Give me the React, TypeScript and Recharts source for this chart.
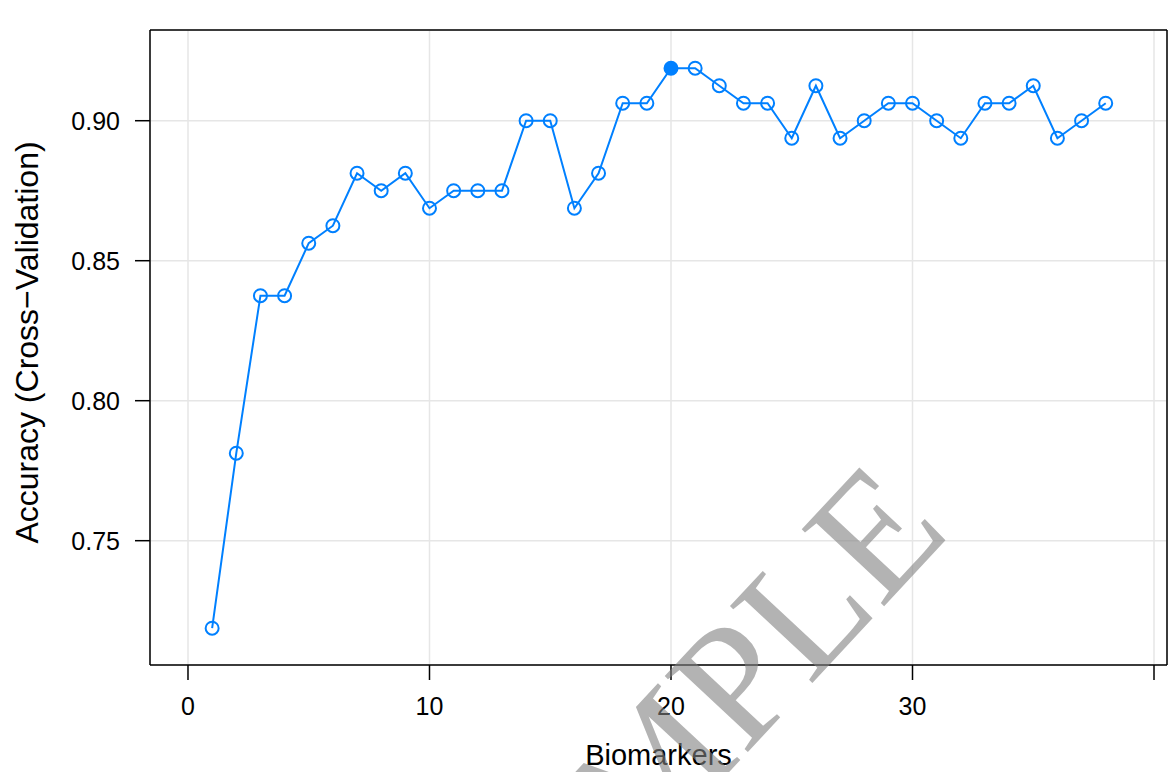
import React from 'react'
import {
  LineChart,
  Line,
  XAxis,
  YAxis,
  CartesianGrid,
  Label,
} from 'recharts'

// Number of biomarkers kept in each resampling step
const BIOMARKERS = [
  1, 2, 3, 4, 5, 6, 7, 8, 9, 10, 11, 12, 13, 14, 15, 16, 17, 18, 19,
  20, 21, 22, 23, 24, 25, 26, 27, 28, 29, 30, 31, 32, 33, 34, 35, 36, 37, 38,
]

// Cross-validated accuracy for each subset size
const ACCURACY = [
  0.71875, 0.78125, 0.8375, 0.8375, 0.85625, 0.8625, 0.88125, 0.875, 0.88125,
  0.86875, 0.875, 0.875, 0.875, 0.9, 0.9, 0.86875, 0.88125, 0.90625, 0.90625,
  0.91875, 0.91875, 0.9125, 0.90625, 0.90625, 0.89375, 0.9125, 0.89375, 0.9,
  0.90625, 0.90625, 0.9, 0.89375, 0.90625, 0.90625, 0.9125, 0.89375, 0.9,
  0.90625,
]

const X_TICKS = [0, 10, 20, 30, 40]
const X_LABELLED = [0, 10, 20, 30]
const Y_TICKS = [0.75, 0.8, 0.85, 0.9]

// subset size picked as optimal
const SELECTED_SIZE = 20

const BLUE = '#0080ff'
const FONT = '"Liberation Sans", Arial, Helvetica, sans-serif'

const data = BIOMARKERS.map((n, i) => ({ n, acc: ACCURACY[i] }))

function RfeDot(props: any) {
  const { cx, cy, payload } = props
  if (cx == null || cy == null) return null
  const picked = payload.n === SELECTED_SIZE
  return (
    <circle
      cx={cx}
      cy={cy}
      r={6.5}
      fill={picked ? BLUE : 'none'}
      stroke={BLUE}
      strokeWidth={2}
    />
  )
}

export default function App() {
  return (
    <div
      style={{
        position: 'absolute',
        left: 0,
        top: 0,
        width: 1168,
        height: 772,
        background: '#fff',
        overflow: 'hidden',
      }}
    >
      <LineChart
        width={1168}
        height={772}
        data={data}
        margin={{ top: 0, right: 0, bottom: 0, left: 0 }}
        style={{ fontFamily: FONT }}
      >
        <CartesianGrid stroke="#e6e6e6" strokeWidth={1.5} />
        <XAxis
          dataKey="n"
          type="number"
          domain={[-1.573, 40.538]}
          ticks={X_TICKS}
          allowDataOverflow
          height={107}
          tickSize={15}
          tickMargin={17}
          tickFormatter={(v: number) => (X_LABELLED.includes(v) ? String(v) : '')}
          axisLine={{ stroke: '#000', strokeWidth: 1.5 }}
          tickLine={{ stroke: '#000', strokeWidth: 1.5 }}
          tick={{ fill: '#000', fontSize: 25 }}
        >
          <Label
            content={({ viewBox }: any) => (
              <text
                x={viewBox.x + viewBox.width / 2}
                y={765}
                textAnchor="middle"
                fontSize={29}
                fill="#000"
              >
                Biomarkers
              </text>
            )}
          />
        </XAxis>
        <XAxis
          xAxisId="top"
          dataKey="n"
          type="number"
          orientation="top"
          domain={[-1.573, 40.538]}
          ticks={X_TICKS}
          allowDataOverflow
          height={30}
          tickSize={15}
          tick={false}
          axisLine={{ stroke: '#000', strokeWidth: 1.5 }}
          tickLine={{ stroke: '#000', strokeWidth: 1.5 }}
        />
        <YAxis
          type="number"
          domain={[0.7056, 0.9324]}
          ticks={Y_TICKS}
          allowDataOverflow
          width={150}
          tickSize={15}
          tickMargin={15}
          tickFormatter={(v: number) => v.toFixed(2)}
          axisLine={{ stroke: '#000', strokeWidth: 1.5 }}
          tickLine={{ stroke: '#000', strokeWidth: 1.5 }}
          tick={{ fill: '#000', fontSize: 25 }}
        >
          <Label
            content={({ viewBox }: any) => {
              const cx = 38
              const cy = viewBox.y + viewBox.height / 2 - 5
              return (
                <text
                  x={cx}
                  y={cy}
                  transform={`rotate(-90 ${cx} ${cy})`}
                  textAnchor="middle"
                  fontSize={32}
                  fill="#000"
                >
                  Accuracy (Cross−Validation)
                </text>
              )
            }}
          />
        </YAxis>
        <YAxis
          yAxisId="right"
          orientation="right"
          type="number"
          domain={[0.7056, 0.9324]}
          width={1}
          tick={false}
          tickLine={false}
          axisLine={{ stroke: '#000', strokeWidth: 1.5 }}
        />
        <Line
          type="linear"
          dataKey="acc"
          stroke={BLUE}
          strokeWidth={2}
          dot={<RfeDot />}
          activeDot={false}
          isAnimationActive={false}
        />
      </LineChart>
      <svg
        width={1168}
        height={772}
        style={{ position: 'absolute', left: 0, top: 0, pointerEvents: 'none' }}
      >
        <text
          x={721}
          y={781}
          transform="rotate(-47 721 781)"
          textAnchor="middle"
          fontFamily='"Liberation Serif", "Times New Roman", serif'
          fontSize={172}
          fill="#808080"
          fillOpacity={0.6}
        >
          SAMPLE
        </text>
      </svg>
    </div>
  )
}
